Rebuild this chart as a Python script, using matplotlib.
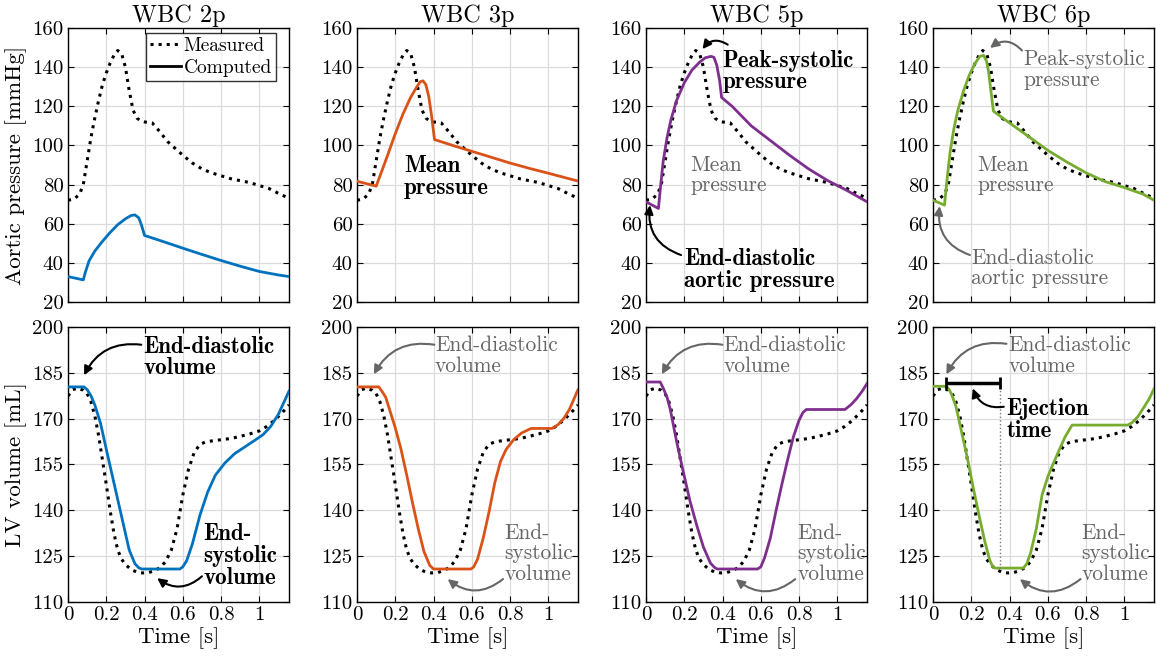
import matplotlib
matplotlib.use("Agg")
import matplotlib.pyplot as plt

plt.rcParams["font.family"] = "cmr10"
plt.rcParams["mathtext.fontset"] = "cm"
plt.rcParams["axes.formatter.use_mathtext"] = True
plt.rcParams["axes.unicode_minus"] = False

# ---------------- data ----------------
titles = ["WBC 2p", "WBC 3p", "WBC 5p", "WBC 6p"]
colors = ["#0072BD", "#D95319", "#7E2F8E", "#77AC30"]

# measured aortic pressure (mmHg)
p_meas_t = [0, 0.03, 0.06, 0.08, 0.10, 0.12, 0.14, 0.16, 0.18, 0.20, 0.22, 0.24, 0.26, 0.28,
            0.30, 0.32, 0.34, 0.36, 0.38, 0.40, 0.44, 0.48, 0.52, 0.56, 0.60, 0.65, 0.70,
            0.75, 0.80, 0.85, 0.90, 0.95, 1.00, 1.05, 1.10, 1.155]
p_meas = [72, 72.5, 75, 80, 92, 104, 114, 123, 131, 137, 142, 146, 148.5, 147,
          140, 128, 118, 114, 112.5, 112, 111.5, 107, 102, 98.5, 95, 91, 88,
          86, 84.5, 83, 82, 81, 79.5, 78, 75.5, 73]

# computed aortic pressure (mmHg)
p2_t = [0, 0.08, 0.09, 0.11, 0.14, 0.18, 0.22, 0.26, 0.30, 0.33, 0.35, 0.37, 0.385, 0.40,
        0.50, 0.60, 0.70, 0.80, 0.90, 1.00, 1.10, 1.155]
p2 = [33, 31.3, 35, 41, 46, 51, 55.5, 59.5, 62.5, 64.2, 64.5, 63, 59, 54,
      50.8, 47.5, 44.3, 41.2, 38.3, 35.6, 33.8, 33]
p3_t = [0, 0.10, 0.13, 0.16, 0.20, 0.24, 0.28, 0.31, 0.33, 0.345, 0.36, 0.375, 0.39, 0.405,
        0.50, 0.60, 0.70, 0.80, 0.90, 1.00, 1.10, 1.155]
p3 = [81.7, 79.2, 87, 95, 106, 116, 124.5, 129.5, 132.5, 133, 131, 125, 115, 103,
      100, 97, 94, 91, 88.3, 85.8, 83.2, 81.8]
p5_t = [0, 0.065, 0.075, 0.09, 0.11, 0.13, 0.16, 0.20, 0.24, 0.28, 0.31, 0.34, 0.355, 0.37,
        0.385, 0.395, 0.45, 0.55, 0.65, 0.75, 0.85, 0.95, 1.05, 1.155]
p5 = [71.2, 67.8, 78, 92, 104, 113, 123, 132, 138.5, 142.5, 144.8, 145.5, 145, 141,
      133, 124.5, 120, 110, 102.5, 95, 88, 82, 77, 71.2]
p6_t = [0, 0.06, 0.075, 0.09, 0.11, 0.13, 0.16, 0.19, 0.22, 0.245, 0.265, 0.28, 0.29, 0.30,
        0.31, 0.316, 0.40, 0.50, 0.60, 0.70, 0.80, 0.90, 1.00, 1.10, 1.155]
p6 = [72, 69.5, 84, 97, 109, 118, 128, 136, 142, 145.5, 146, 143, 138, 130,
      122, 117.5, 111.5, 104.5, 97.5, 91.5, 86, 81.5, 78.5, 75, 72]

# measured LV volume (mL)
v_meas_t = [0, 0.025, 0.05, 0.08, 0.10, 0.12, 0.14, 0.16, 0.18, 0.20, 0.22, 0.24, 0.26, 0.28,
            0.30, 0.33, 0.36, 0.39, 0.42, 0.45, 0.48, 0.51, 0.54, 0.57, 0.60, 0.63, 0.66,
            0.69, 0.72, 0.76, 0.80, 0.85, 0.90, 0.95, 1.00, 1.04, 1.08, 1.12, 1.155]
v_meas = [177.4, 179.5, 180, 179.3, 178.2, 175.5, 171, 164.5, 156.5, 148.5, 140, 132.5, 127, 124,
          122.3, 120.6, 119.8, 119.5, 119.6, 120.2, 121.2, 123.2, 127, 134, 145, 153.5, 159,
          161.6, 162.4, 162.8, 163.1, 163.5, 164.2, 165, 166, 167.5, 169.5, 172, 174.5]

# computed LV volume (mL)
v2_t = [0, 0.084, 0.10, 0.12, 0.14, 0.17, 0.20, 0.24, 0.28, 0.32, 0.35, 0.37, 0.385, 0.585,
        0.60, 0.62, 0.65, 0.69, 0.73, 0.77, 0.82, 0.87, 0.93, 0.99, 1.02, 1.06, 1.10, 1.155]
v2 = [180.4, 180.4, 179.5, 177.5, 174.5, 168.5, 160, 149, 138, 127, 122.5, 121.2, 120.8, 120.8,
      121.5, 123.5, 129, 138.5, 146, 151.5, 155.5, 158.5, 161, 163.5, 164.8, 167.5, 171.5, 179]
v3_t = [0, 0.114, 0.13, 0.15, 0.17, 0.20, 0.23, 0.26, 0.29, 0.32, 0.35, 0.38, 0.40, 0.596,
        0.61, 0.63, 0.66, 0.69, 0.72, 0.75, 0.78, 0.82, 0.86, 0.91, 1.02, 1.05, 1.08, 1.11, 1.155]
v3 = [180.4, 180.4, 179, 177, 173, 167, 160, 151.5, 142.5, 134, 126.5, 122, 120.8, 120.8,
      121.5, 124, 131, 139.5, 149, 156, 160, 163.2, 165.3, 166.8, 166.8, 168, 170, 173, 179.5]
v5_t = [0, 0.074, 0.09, 0.11, 0.127, 0.16, 0.197, 0.23, 0.267, 0.30, 0.337, 0.36, 0.373, 0.583,
        0.60, 0.62, 0.65, 0.68, 0.71, 0.74, 0.77, 0.80, 0.82, 0.838, 1.04, 1.07, 1.10, 1.13, 1.155]
v5 = [182, 182, 180, 177, 173, 162.5, 152, 143, 134.7, 128, 122.7, 121.2, 120.8, 120.8,
      121.5, 124.5, 131, 140, 148.5, 156.5, 164, 169.5, 172, 173, 173, 174.5, 176.5, 179, 181.5]
v6_t = [0, 0.07, 0.085, 0.10, 0.12, 0.15, 0.18, 0.21, 0.24, 0.27, 0.295, 0.31, 0.322, 0.472,
        0.49, 0.51, 0.54, 0.57, 0.60, 0.63, 0.66, 0.69, 0.727, 1.018, 1.04, 1.07, 1.10, 1.13, 1.155]
v6 = [180.6, 180.6, 179.5, 177.5, 174, 165.5, 157, 147.5, 138.5, 130, 124, 121.8, 121.1, 121.1,
      122.5, 126, 134, 145, 151, 155.5, 159.8, 164, 167.9, 167.9, 168.7, 170.6, 173.5, 176.5, 179.8]

p_series = [(p2_t, p2), (p3_t, p3), (p5_t, p5), (p6_t, p6)]
v_series = [(v2_t, v2), (v3_t, v3), (v5_t, v5), (v6_t, v6)]

# ejection time marker (6p model)
eject_start, eject_end, eject_level, eject_bottom = 0.07, 0.349, 181.8, 121.1

x_ticks = [0, 0.2, 0.4, 0.6, 0.8, 1.0]
x_labels = ["0", "0.2", "0.4", "0.6", "0.8", "1"]
p_ticks = [20, 40, 60, 80, 100, 120, 140, 160]
v_ticks = [110, 125, 140, 155, 170, 185, 200]
t_max = 1.155

# ---------------- figure ----------------
W, H = 1156, 659
fig = plt.figure(figsize=(W / 100, H / 100), dpi=100)

col_left = [68, 357, 646, 933]
ax_w = 221
top_row = (28, 302)
bot_row = (327, 602)

GRAY = "#666666"
FS_TICK = 15
FS_LAB = 16.5
FS_TITLE = 17.5
FS_ANN = 15.4
FS_ANN_BOLD = 16.6
LSP = 1.06


def make_ax(x0, rows):
    y0, y1 = rows
    return fig.add_axes([x0 / W, 1 - y1 / H, ax_w / W, (y1 - y0) / H])


def style(ax):
    ax.grid(True, color="#dcdcdc", lw=0.9)
    ax.set_axisbelow(True)
    ax.tick_params(direction="in", top=True, right=True, length=4, width=0.8,
                   labelsize=FS_TICK, pad=3)
    for s in ax.spines.values():
        s.set_linewidth(1.0)
        s.set_color("black")


def note(ax, txt, x, y, bold, gray):
    ax.text(x, y, txt, ha="left", va="top",
            fontsize=FS_ANN_BOLD if bold else FS_ANN,
            family="cmb10" if bold else "cmr10",
            color=GRAY if gray else "black",
            linespacing=LSP * (FS_ANN / FS_ANN_BOLD if bold else 1.0), zorder=5)


def arrow(ax, tail, tip, rad, gray):
    ax.annotate("", xy=tip, xytext=tail,
                arrowprops=dict(arrowstyle="-|>", color=GRAY if gray else "black",
                                lw=1.5, mutation_scale=13,
                                connectionstyle=f"arc3,rad={rad}",
                                shrinkA=0, shrinkB=0), zorder=5)


top_axes, bot_axes = [], []
for i in range(4):
    axp = make_ax(col_left[i], top_row)
    axv = make_ax(col_left[i], bot_row)
    top_axes.append(axp)
    bot_axes.append(axv)

    axp.plot(p_meas_t, p_meas, ":", color="black", lw=2.2, zorder=3)
    axp.plot(*p_series[i], "-", color=colors[i], lw=2.0, zorder=4)
    axp.set_xlim(0, t_max)
    axp.set_ylim(20, 160)
    axp.set_xticks(x_ticks)
    axp.set_xticklabels([])
    axp.set_yticks(p_ticks)
    axp.set_yticklabels([str(v) for v in p_ticks])
    axp.set_title(titles[i], fontsize=FS_TITLE, pad=4)
    style(axp)

    axv.plot(v_meas_t, v_meas, ":", color="black", lw=2.2, zorder=3)
    axv.plot(*v_series[i], "-", color=colors[i], lw=2.0, zorder=4)
    axv.set_xlim(0, t_max)
    axv.set_ylim(110, 200)
    axv.set_xticks(x_ticks)
    axv.set_xticklabels(x_labels)
    axv.set_yticks(v_ticks)
    axv.set_yticklabels([str(v) for v in v_ticks])
    axv.set_xlabel("Time [s]", fontsize=FS_LAB, labelpad=2)
    style(axv)

top_axes[0].set_ylabel("Aortic pressure [mmHg]", fontsize=FS_LAB, labelpad=4)
bot_axes[0].set_ylabel("LV volume [mL]", fontsize=FS_LAB, labelpad=4)

# legend
h_meas, = top_axes[0].plot([], [], ":", color="black", lw=2.2)
h_comp, = top_axes[0].plot([], [], "-", color="black", lw=2.0)
leg = top_axes[0].legend([h_meas, h_comp], ["Measured", "Computed"], loc="upper right",
                         bbox_to_anchor=(0.94, 0.982), borderaxespad=0.0,
                         fontsize=14, frameon=True, fancybox=False, edgecolor="black",
                         handlelength=1.6, handletextpad=0.15, borderpad=0.2,
                         labelspacing=0.22)
leg.get_frame().set_linewidth(1.0)

# ---- pressure annotations ----
note(top_axes[1], "Mean\npressure", 0.245, 95, True, False)

note(top_axes[2], "Peak-systolic\npressure", 0.40, 149, True, False)
arrow(top_axes[2], (0.427, 151.5), (0.295, 149.2), 0.45, False)
note(top_axes[2], "Mean\npressure", 0.23, 95, False, True)
note(top_axes[2], "End-diastolic\naortic pressure", 0.198, 47.5, True, False)
arrow(top_axes[2], (0.183, 44.0), (0.021, 69.5), -0.4, False)

note(top_axes[3], "Peak-systolic\npressure", 0.474, 149, False, True)
arrow(top_axes[3], (0.465, 148.5), (0.298, 149.8), 0.45, True)
note(top_axes[3], "Mean\npressure", 0.232, 95, False, True)
note(top_axes[3], "End-diastolic\naortic pressure", 0.20, 47.5, False, True)
arrow(top_axes[3], (0.193, 44.0), (0.035, 69.0), -0.4, True)

# ---- volume annotations ----
ed_left = [0.392, 0.407, 0.404, 0.393]
ed_tail = [(0.383, 194.2), (0.404, 194.2), (0.399, 194.2), (0.384, 194.5)]
ed_tip = [(0.084, 184.2), (0.088, 184.5), (0.083, 184.5), (0.07, 184.5)]
es_left = [0.708, 0.772, 0.79, 0.775]
es_tail = [(0.70, 118.4), (0.763, 117.5), (0.78, 117.5), (0.771, 117.5)]
es_tip = [(0.466, 117.8), (0.474, 117.5), (0.469, 117.5), (0.454, 117.5)]
for i in range(4):
    bold = i == 0
    note(bot_axes[i], "End-diastolic\nvolume", ed_left[i], 197.2, bold, not bold)
    arrow(bot_axes[i], ed_tail[i], ed_tip[i], 0.35, not bold)
    note(bot_axes[i], "End-\nsystolic\nvolume", es_left[i], 135.8, bold, not bold)
    arrow(bot_axes[i], es_tail[i], es_tip[i], -0.4, not bold)

ax6 = bot_axes[3]
ax6.plot([eject_end, eject_end], [eject_level, eject_bottom], ":", color="#777777",
         lw=1.0, zorder=4)
ax6.errorbar([(eject_start + eject_end) / 2], [eject_level],
             xerr=[(eject_end - eject_start) / 2], fmt="none", ecolor="black",
             elinewidth=2.5, capsize=4, capthick=2.0, zorder=6)
note(ax6, "Ejection\ntime", 0.384, 176.8, True, False)
arrow(ax6, (0.37, 173.9), (0.208, 179.9), -0.4, False)

fig.savefig("out.png", dpi=100)
